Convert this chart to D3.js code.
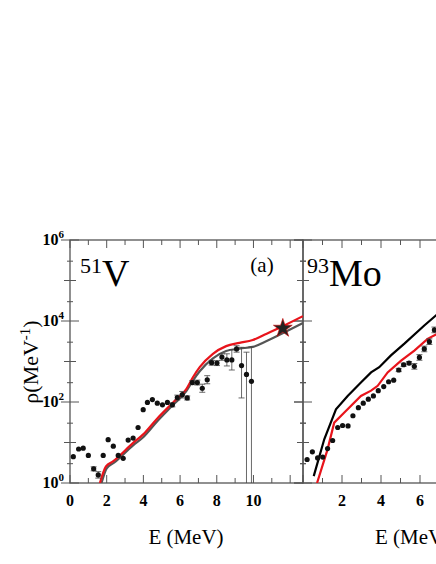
<!DOCTYPE html>
<html><head><meta charset="utf-8">
<script src="https://cdn.jsdelivr.net/npm/d3@7"></script>
<style>body{margin:0;background:#fff}svg{display:block}text{font-family:"Liberation Serif","Times New Roman",serif}</style>
</head><body><svg id="c" width="436" height="564"></svg>
<script>
// log10 values
const vE=[0.18,0.47,0.72,1.0,1.29,1.54,1.81,2.08,2.36,2.63,2.90,3.17,3.44,3.71,3.99,4.22,4.49,4.76,5.04,5.31,5.58,5.85,6.12,6.39,6.67,6.94,7.21,7.48,7.72,8.01,8.28,8.55,8.82,9.08,9.35,9.62,9.89];
const vLog=[0.65,0.84,0.86,0.68,0.35,0.20,0.68,1.07,0.91,0.68,0.61,1.06,1.11,1.37,1.81,1.99,2.06,1.97,1.93,1.99,1.93,2.11,2.18,2.10,2.48,2.48,2.34,2.55,2.97,2.96,3.11,3.04,3.04,3.31,2.90,2.68,2.51];
const vErrLo=[0,0,0,0,0.05,0.08,0,0,0,0,0,0,0,0,0,0,0,0,0,0,0.05,0.06,0.08,0.05,0.05,0.06,0.1,0.1,0.06,0.06,0.08,0.15,0.25,0.08,0.8,3,3];
const vErrHi=[0,0,0,0,0.05,0.08,0,0,0,0,0,0,0,0,0,0,0,0,0,0,0.05,0.06,0.08,0.05,0.05,0.06,0.1,0.1,0.06,0.06,0.08,0.15,0.25,0.08,0.45,0.55,0.85];
const vStar=[11.6,3.82];
const vRedE=[1.63,1.96,2.36,3.44,3.99,4.71,5.62,6.34,6.7,7.07,7.79,8.51,9.24,9.96,10.69,11.59,12.7];
const vRedLog=[0,0.41,0.54,0.99,1.2,1.57,1.99,2.32,2.61,2.86,3.19,3.38,3.46,3.53,3.68,3.87,4.12];
const vGrayE=[1.72,2.0,2.4,3.44,3.99,4.71,5.62,6.34,6.7,7.07,7.79,8.51,9.24,9.96,10.69,11.59,12.7];
const vGrayLog=[0,0.36,0.5,0.93,1.13,1.5,1.93,2.27,2.53,2.76,3.08,3.26,3.32,3.36,3.5,3.7,3.95];
const mE=[0.21,0.48,0.75,1.01,1.26,1.52,1.78,2.03,2.31,2.56,2.84,3.09,3.35,3.61,3.86,4.14,4.39,4.65,4.91,5.16,5.44,5.71,5.97,6.22,6.48,6.74];
const mLog=[0.58,0.77,0.62,0.64,0.85,1.05,1.37,1.42,1.41,1.66,1.86,1.97,2.07,2.15,2.28,2.38,2.50,2.54,2.79,2.92,2.96,2.88,3.10,3.31,3.49,3.78];
const mErr=[0,0,0,0,0,0,0,0,0,0,0,0,0,0,0,0,0,0,0.04,0.04,0.04,0.07,0.07,0.07,0.07,0.07];
const mBlackE=[0.55,1.09,1.69,2.29,2.97,3.49,3.91,4.51,5.2,6.22,6.87,8];
const mBlackLog=[0.17,1.08,1.82,2.15,2.48,2.73,2.86,3.15,3.44,3.89,4.16,4.6];
const mRedE=[0.72,1.26,1.6,2.12,2.97,3.49,3.83,4.34,5.03,5.71,6.39,6.87,8];
const mRedLog=[0,0.83,1.49,1.74,2.15,2.28,2.40,2.73,3.02,3.27,3.56,3.68,4.1];
const yTicks=["10^0","10^2","10^4","10^6"];

const svg=d3.select("#c");
const T=240,B=483;
const y=d3.scaleLinear().domain([0,6]).range([B,T]);
const x1=d3.scaleLinear().domain([0,12.7]).range([70,303]);
const x2=d3.scaleLinear().domain([0,12]).range([303,537]);

function panel(x,xmax,labels){
  const g=svg.append("g");
  const [l,r]=x.range();
  g.append("rect").attr("x",l).attr("y",T).attr("width",r-l).attr("height",B-T).attr("fill","none").attr("stroke","#555").attr("stroke-width",1.3);
  for(let d=0;d<=6;d++){const L=d%2==0?9:6;
    g.append("line").attr("x1",l).attr("x2",l+L).attr("y1",y(d)).attr("y2",y(d)).attr("stroke","#555");
    g.append("line").attr("x1",l-L).attr("x2",l).attr("y1",y(d)).attr("y2",y(d)).attr("stroke","#555");
    g.append("line").attr("x1",r-L).attr("x2",r).attr("y1",y(d)).attr("y2",y(d)).attr("stroke","#555");
    if(d<6){const v=d+Math.log10(3);
      [l,r].forEach(xx=>g.append("line").attr("x1",xx-3).attr("x2",xx+3).attr("y1",y(v)).attr("y2",y(v)).attr("stroke","#555"));}
  }
  for(let e=0;e<=xmax;e++){const L=e%2==0?8:5;
    g.append("line").attr("x1",x(e)).attr("x2",x(e)).attr("y1",B).attr("y2",B-L).attr("stroke","#555");
    g.append("line").attr("x1",x(e)).attr("x2",x(e)).attr("y1",T).attr("y2",T+L).attr("stroke","#555");
  }
  labels.forEach(e=>g.append("text").attr("x",x(e)).attr("y",B+23).attr("text-anchor","middle").attr("font-size",16).attr("font-weight","bold").text(e));
}
panel(x1,12,[0,2,4,6,8,10]);
panel(x2,12,[2,4,6]);

yTicks.forEach(t=>{const p=+t.split("^")[1];
  const tx=svg.append("text").attr("x",64).attr("y",y(p)+5).attr("text-anchor","end").attr("font-size",16).attr("font-weight","bold");
  tx.append("tspan").text("10");
  tx.append("tspan").attr("dy",-7).attr("font-size",11).text(p);
});

const line=(xs)=>d3.line().x(d=>xs(d[0])).y(d=>y(d[1]));
svg.append("clipPath").attr("id","c1").append("rect").attr("x",70).attr("y",T).attr("width",233).attr("height",B-T);
svg.append("clipPath").attr("id","c2").append("rect").attr("x",303).attr("y",T).attr("width",300).attr("height",B-T);
const g1=svg.append("g").attr("clip-path","url(#c1)");
const g2=svg.append("g").attr("clip-path","url(#c2)");

g1.append("path").datum(d3.zip(vGrayE,vGrayLog)).attr("d",line(x1).curve(d3.curveMonotoneX)).attr("fill","none").attr("stroke","#555").attr("stroke-width",2.2);
g1.append("path").datum(d3.zip(vRedE,vRedLog)).attr("d",line(x1).curve(d3.curveMonotoneX)).attr("fill","none").attr("stroke","#e8141b").attr("stroke-width",2.2);
vE.forEach((e,i)=>{
  if(vErrLo[i]>0){const xx=x1(e);
    g1.append("line").attr("x1",xx).attr("x2",xx).attr("y1",y(vLog[i]-vErrLo[i])).attr("y2",y(vLog[i]+vErrHi[i])).attr("stroke","#444").attr("stroke-width",0.8);
    [vLog[i]-vErrLo[i],vLog[i]+vErrHi[i]].forEach(v=>g1.append("line").attr("x1",xx-3).attr("x2",xx+3).attr("y1",y(v)).attr("y2",y(v)).attr("stroke","#444").attr("stroke-width",0.8));}
  g1.append("circle").attr("cx",x1(e)).attr("cy",y(vLog[i])).attr("r",2.6).attr("fill","#111");
});
const star=d3.symbol().type(d3.symbolStar).size(110);
svg.append("path").attr("d",star()).attr("transform",`translate(${x1(vStar[0])},${y(vStar[1])})`).attr("fill","#222").attr("stroke","#c00").attr("stroke-width",0.6);

g2.append("path").datum(d3.zip(mBlackE,mBlackLog)).attr("d",line(x2)).attr("fill","none").attr("stroke","#000").attr("stroke-width",2.2);
g2.append("path").datum(d3.zip(mRedE,mRedLog)).attr("d",line(x2)).attr("fill","none").attr("stroke","#e8141b").attr("stroke-width",2.2);
mE.forEach((e,i)=>{
  if(mErr[i]>0){const xx=x2(e);
    g2.append("line").attr("x1",xx).attr("x2",xx).attr("y1",y(mLog[i]-mErr[i])).attr("y2",y(mLog[i]+mErr[i])).attr("stroke","#444").attr("stroke-width",0.8);
    [mLog[i]-mErr[i],mLog[i]+mErr[i]].forEach(v=>g2.append("line").attr("x1",xx-3).attr("x2",xx+3).attr("y1",y(v)).attr("y2",y(v)).attr("stroke","#444").attr("stroke-width",0.8));}
  g2.append("circle").attr("cx",x2(e)).attr("cy",y(mLog[i])).attr("r",2.6).attr("fill","#111");
});

function iso(xx,yy,m,el){const t=svg.append("text").attr("x",xx).attr("y",yy);
  t.append("tspan").attr("font-size",22).attr("dy",-13).text(m);
  t.append("tspan").attr("font-size",38).attr("dy",13).text(el);}
iso(80,286,"51","V");
iso(307,286,"93","Mo");
svg.append("text").attr("x",262).attr("y",272).attr("text-anchor","middle").attr("font-size",21).text("(a)");

svg.append("text").attr("x",186).attr("y",544).attr("text-anchor","middle").attr("font-size",21).text("E (MeV)");
svg.append("text").attr("x",375).attr("y",544).attr("text-anchor","start").attr("font-size",21).text("E (MeV)");
const yl=svg.append("text").attr("transform","translate(38,362) rotate(-90)").attr("text-anchor","middle").attr("font-size",22);
yl.append("tspan").text("ρ(MeV");
yl.append("tspan").attr("dy",-8).attr("font-size",15).text("-1");
yl.append("tspan").attr("dy",8).text(")");
</script></body></html>
